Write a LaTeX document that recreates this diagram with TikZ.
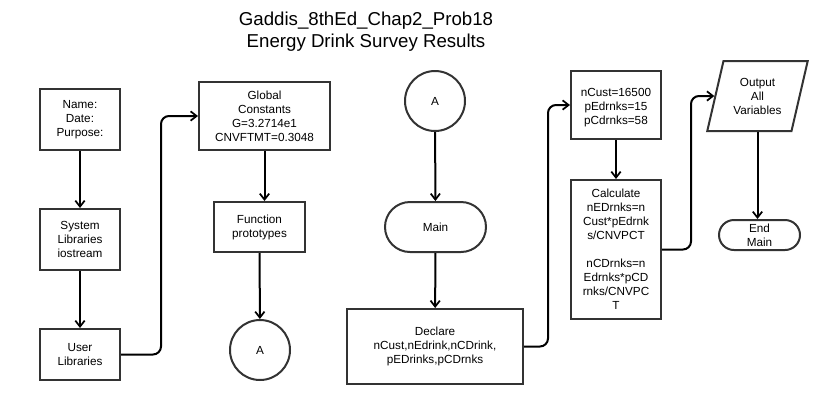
\documentclass[tikz,border=0pt]{standalone}
\usepackage{fontspec}
\setmainfont{Liberation Sans}
\usetikzlibrary{shapes.geometric,shapes.misc,arrows.meta}
\tikzset{
  blk/.style={draw=black!80,line width=1.5pt,inner sep=0pt,align=center,
    font=\fontsize{8.8}{10.5}\selectfont},
  proc/.style={blk,rectangle},
  conn/.style={blk,circle,minimum size=45pt},
  term/.style={blk,rounded rectangle},
  io/.style={blk,trapezium,trapezium left angle=72.5,trapezium right angle=107.5,
    trapezium stretches=true},
  flow/.style={line width=1.5pt,rounded corners=6pt,
    -{Straight Barb[length=4.5pt,width=7pt,line width=1.3pt]}}
}
\begin{document}
\begin{tikzpicture}[x=0.75pt,y=-0.75pt]
  \useasboundingbox (0,0) rectangle (826,405);
  \node[align=center,font=\fontsize{14}{16.5}\selectfont] (title) at (366,32)
    {Gaddis\_8thEd\_Chap2\_Prob18\\Energy Drink Survey Results};
  \node[proc,minimum width=60pt,minimum height=45.75pt] (hdr) at (80,119.5) {Name:\\Date:\\Purpose:};
  \node[proc,minimum width=60pt,minimum height=45.75pt] (syslib) at (80,239.5) {System\\Libraries\\iostream};
  \node[proc,minimum width=60pt,minimum height=38.25pt] (usrlib) at (80,354.5) {User\\Libraries};
  \node[proc,minimum width=98.25pt,minimum height=51pt] (glob) at (264.5,116)
    {Global\\Constants\\G=3.2714e1\\CNVFTMT=0.3048};
  \node[proc,minimum width=68.25pt,minimum height=37.5pt] (proto) at (259.5,227) {Function\\prototypes};
  \node[conn] (conA) at (260,350) {A};
  \node[conn] (conB) at (435,101) {A};
  \node[term,minimum width=75.75pt,minimum height=37.5pt] (main) at (435.5,227) {Main};
  \node[proc,minimum width=132pt,minimum height=56.25pt] (decl) at (435,346.5)
    {Declare\\nCust,nEdrink,nCDrink,\\pEDrinks,pCDrnks};
  \node[proc,minimum width=67.5pt,minimum height=51pt] (init) at (616,105)
    {\mbox{}\\nCust=16500\\pEdrnks=15\\pCdrnks=58};
  \node[proc,minimum width=67.5pt,minimum height=104.25pt] (calc) at (616,249.5)
    {Calculate\\nEDrnks=n\\Cust*pEdrnk\\s/CNVPCT\\[10.5pt]nCDrnks=n\\Edrnks*pCD\\rnks/CNVPC\\T};
  \node[io,minimum width=75.75pt,minimum height=52.5pt] (out) at (757.5,96) {Output\\All\\Variables};
  \node[term,minimum width=60.75pt,minimum height=22.5pt] (endm) at (759.5,235) {End\\Main};
  \begin{scope}[flow]
    \draw (hdr) to (syslib);
    \draw (syslib) to (usrlib);
    \draw (usrlib.east) -- ++(40,0) |- (glob.west);
    \draw (glob.south) -- (glob.south |- proto.north);
    \draw (proto) to (conA);
    \draw (conB) to (main);
    \draw (main) to (decl);
    \draw (decl.east) -- ++(24,0) |- (init.west);
    \draw (init) to (calc);
    \draw (calc.east) -- ++(29,0) |- (out.west);
    \draw (out.south) -- (out.south |- endm.north);
  \end{scope}
\end{tikzpicture}
\end{document}
